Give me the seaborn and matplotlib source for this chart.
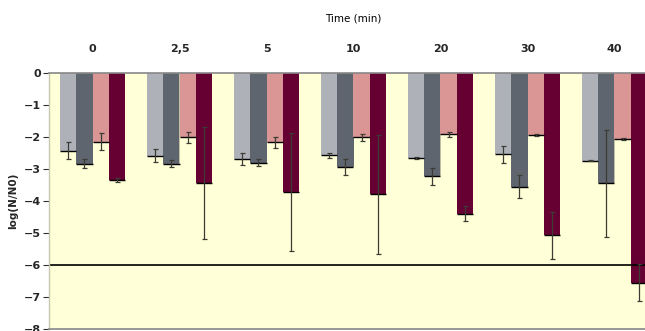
import numpy as np
import pandas as pd
import matplotlib
matplotlib.use('Agg')
import matplotlib.pyplot as plt
import matplotlib.patheffects as pe
import seaborn as sns

# time points (top axis) and the four series
times = ['0', '2,5', '5', '10', '20', '30', '40']
series = ['A', 'B', 'C', 'D']
colors = ['#aeb1b8', '#5f656f', '#d99694', '#660033']

# log reductions
vals_a = [-2.43, -2.58, -2.68, -2.57, -2.65, -2.54, -2.74]
vals_b = [-2.83, -2.83, -2.80, -2.94, -3.23, -3.55, -3.45]
vals_c = [-2.15, -2.01, -2.17, -2.01, -1.92, -1.95, -2.06]
vals_d = [-3.35, -3.44, -3.71, -3.79, -4.40, -5.07, -6.55]

# error bar half widths
err_a = [0.26, 0.19, 0.19, 0.08, 0.03, 0.26, 0.02]
err_b = [0.14, 0.10, 0.10, 0.24, 0.26, 0.36, 1.66]
err_c = [0.27, 0.18, 0.16, 0.10, 0.07, 0.03, 0.02]
err_d = [0.07, 1.76, 1.84, 1.86, 0.24, 0.74, 0.57]

vals = [vals_a, vals_b, vals_c, vals_d]
errs = [err_a, err_b, err_c, err_d]

rows = []
for s, v, e in zip(series, vals, errs):
    for t, y, ee in zip(times, v, e):
        rows.append({'time': t, 'series': s, 'value': y, 'err': ee})
df = pd.DataFrame(rows)

sns.set_style('white')
plt.rcParams['font.family'] = ['DejaVu Sans']

fig = plt.figure(figsize=(6.45, 3.31), dpi=100)
ax = fig.add_axes([49/645, 2/331, 609/645, 256/331])
ax.set_facecolor('#ffffd8')

sns.barplot(data=df, x='time', y='value', hue='series', order=times,
            hue_order=series, palette=colors, width=0.736, gap=0,
            errorbar=None, legend=False, saturation=1, ax=ax,
            edgecolor='none', linewidth=0)

# bars are stored hue level by hue level
for i, p in enumerate(ax.patches):
    s = i // len(times)
    j = i % len(times)
    p.set_path_effects([pe.SimplePatchShadow(offset=(0.7, 0), shadow_rgbFace='#808070', alpha=0.5), pe.Normal()])
    xc = p.get_x() + p.get_width() / 2
    yb = p.get_y() + p.get_height()
    ax.hlines(yb, p.get_x(), p.get_x() + p.get_width(), color='black', lw=1, zorder=3)
    ax.errorbar(xc, vals[s][j], yerr=errs[s][j], fmt='none', ecolor='#3c3c34',
                elinewidth=0.9, capsize=1.8, capthick=0.9, zorder=4)

ax.axhline(-6, color='black', lw=1.2, zorder=2)

ax.set_ylim(-8, 0)
ax.set_yticks(np.arange(-8, 1, 1))
ax.set_xlim(-0.5, len(times) - 0.5)

ax.xaxis.tick_top()
ax.xaxis.set_label_position('top')
ax.tick_params(axis='x', length=0, pad=14, labelsize=8)
ax.tick_params(axis='y', left=True, length=4, width=0.8, color='#303030', pad=2, labelsize=8)
for lab in ax.get_xticklabels() + ax.get_yticklabels():
    lab.set_fontweight('bold')

ax.set_xlabel('Time (min)', fontsize=7.5, labelpad=16, color='black')
ax.set_ylabel('log(N/N0)', fontsize=7.5, fontweight='bold', labelpad=4)

for side in ['top', 'bottom']:
    ax.spines[side].set_color('#888888')
    ax.spines[side].set_linewidth(1.2)
ax.spines['left'].set_color('#c8c8b0')
ax.spines['left'].set_linewidth(1)
ax.spines['right'].set_visible(False)

fig.savefig('out.png', dpi=100)
